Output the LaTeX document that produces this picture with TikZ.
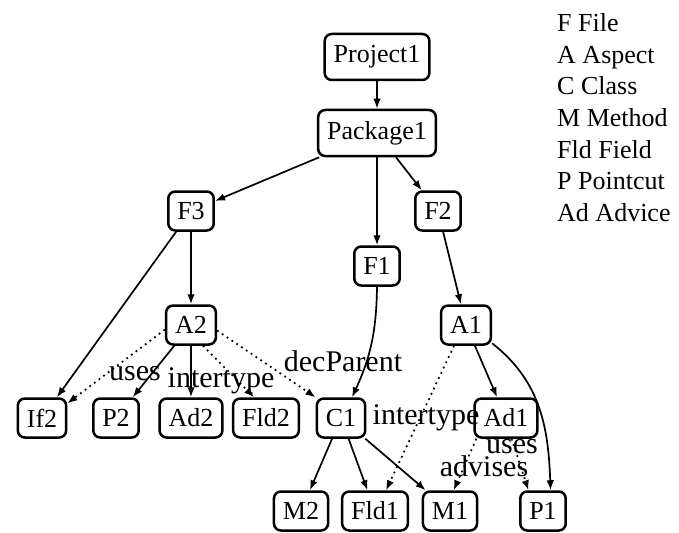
\documentclass[tikz,border=0pt]{standalone}
\usepackage{fontspec}
\setmainfont{Liberation Serif}
\usetikzlibrary{arrows.meta}
\begin{document}
\begin{tikzpicture}[x=1pt,y=-1pt,
  box/.style={draw, rounded corners=7pt, line width=2.5pt, font=\fontsize{26}{30}\selectfont,
    inner xsep=9pt, inner ysep=0pt, minimum height=39pt},
  tall/.style={minimum height=46pt},
  lbl/.style={font=\fontsize{30}{34}\selectfont, inner sep=0pt, anchor=base},
  leg/.style={font=\fontsize{26}{30}\selectfont, inner sep=0pt, anchor=base west},
  edge/.style={line width=1.7pt, -{Latex[length=10pt,width=7.5pt]}},
  dedge/.style={edge, dash pattern=on 1.8pt off 4pt}
]
\useasboundingbox (0,0) rectangle (679,532);
% nodes
\node[box,tall] (proj) at (377,57) {Project1};
\node[box,tall] (pack) at (377,133) {Package1};
\node[box] (F3) at (191,211) {F3};
\node[box] (F2) at (438,211) {F2};
\node[box] (F1) at (377,266) {F1};
\node[box] (A2) at (191,325) {A2};
\node[box] (A1) at (466,325) {A1};
\node[box] (If2) at (42,418) {If2};
\node[box] (P2) at (116,418) {P2};
\node[box] (Ad2) at (191,418) {Ad2};
\node[box] (Fld2) at (266,418) {Fld2};
\node[box] (C1) at (341,418) {C1};
\node[box] (Ad1) at (506,418) {Ad1};
\node[box] (M2) at (301,511) {M2};
\node[box] (Fld1) at (375,511) {Fld1};
\node[box] (M1) at (450,511) {M1};
\node[box] (P1) at (543,511) {P1};
% solid edges
\draw[edge] (proj) -- (pack);
\draw[edge] (pack) -- (F3);
\draw[edge] (pack.south) -- (F1.north);
\draw[edge] (pack) -- (F2);
\draw[edge] (F3) -- (If2);
\draw[edge] (F3) -- (A2);
\draw[edge] (F1.south) to[bend left=12] (C1.62);
\draw[edge] (F2) -- (A1);
\draw[edge] (A2) -- (P2);
\draw[edge] (A2) -- (Ad2);
\draw[edge] (C1) -- (M2);
\draw[edge] (C1) -- (Fld1);
\draw[edge] (C1) -- (M1);
\draw[edge] (A1) -- (Ad1);
\draw[edge] (A1.-35) to[out=-38,in=92] (P1.70);
% dotted edges
\draw[dedge] (A2.190) -- (If2.30);
\draw[dedge] (A2.-60) -- (Fld2.120);
\draw[dedge] (A2.-12) -- (C1.north west);
\draw[dedge] (A1.240) -- (Fld1.62);
\draw[dedge] (Ad1.215) -- (M1.80);
\draw[dedge] (Ad1.-75) -- (P1.125);
% edge labels
\node[lbl] (l1) at (135,380) {uses};
\node[lbl] (l2) at (221,387) {intertype};
\node[lbl] (l3) at (343,371) {decParent};
\node[lbl] (l4) at (426,424) {intertype};
\node[lbl] (l5) at (512,453) {uses};
\node[lbl] (l6) at (484,476) {advises};
% legend
\node[leg] (g1) at (557,32) {F File};
\node[leg] (g2) at (557,63.5) {A Aspect};
\node[leg] (g3) at (557,95) {C Class};
\node[leg] (g4) at (557,126.5) {M Method};
\node[leg] (g5) at (557,158) {Fld Field};
\node[leg] (g6) at (557,189.5) {P Pointcut};
\node[leg] (g7) at (557,221) {Ad Advice};
\end{tikzpicture}
\end{document}
